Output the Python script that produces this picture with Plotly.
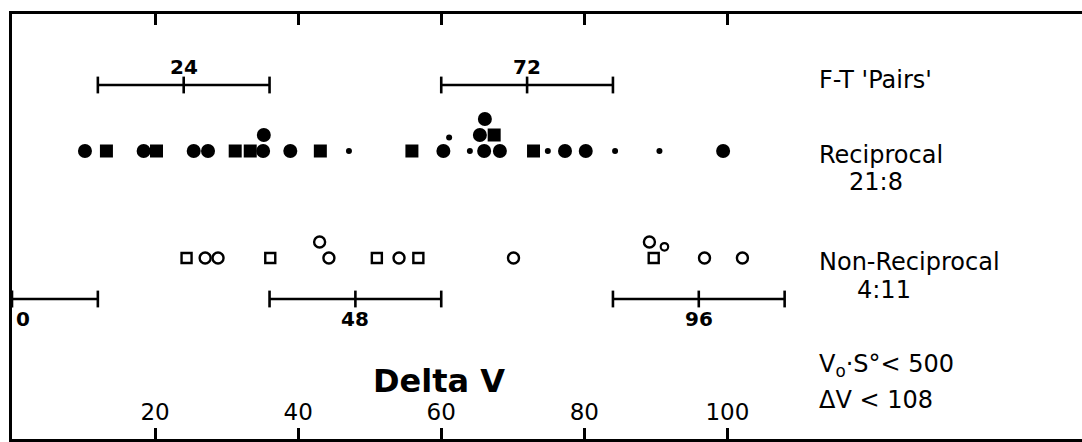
import plotly.graph_objects as go

# ---------------- data (Delta V values) ----------------
# Reciprocal (filled symbols); level = stacking row above the baseline
rec_circle_dv = [10.2, 18.4, 25.4, 27.4, 35.1, 38.9, 60.3, 66.0, 68.2, 77.3, 80.2, 99.4, 35.2, 65.4, 66.1]
rec_circle_lvl = [0, 0, 0, 0, 0, 0, 0, 0, 0, 0, 0, 0, 1, 1, 2]
rec_square_dv = [13.2, 20.2, 31.2, 33.3, 43.1, 55.9, 72.9, 67.4]
rec_square_lvl = [0, 0, 0, 0, 0, 0, 0, 1]
rec_dot_dv = [47.1, 64.0, 74.9, 84.3, 90.5, 61.1]
rec_dot_lvl = [0, 0, 0, 0, 0, 0.85]

# Non-reciprocal (open symbols)
non_circle_dv = [27.0, 28.8, 44.3, 54.1, 70.1, 96.8, 102.1, 43.0, 89.1]
non_circle_lvl = [0, 0, 0, 0, 0, 0, 0, 1, 1]
non_small_circle_dv = [91.2]
non_small_circle_lvl = [0.7]
non_square_dv = [24.4, 36.1, 51.0, 56.8, 89.7]
non_square_lvl = [0, 0, 0, 0, 0]

# F-T 'Pairs' intervals (centre +/- half width)
pair_top_centres = [24, 72]
pair_bottom_centres = [0, 48, 96]
pair_half_width = 12

x_tick_vals = [20, 40, 60, 80, 100]

# ---------------- layout constants ----------------
FONT = "DejaVu Sans"
W, H = 1082, 442
PX_PER_UNIT = 7.154
LEFT_PX = 12
TOP_PX, BOT_PX = 14, 439
Y_MAX = BOT_PX - TOP_PX            # y axis in "pixel-like" units, 0 at bottom frame
X_MAX = (W - LEFT_PX) / PX_PER_UNIT

ROW_REC = 288
ROW_NON = 181
ROW_PAIR_TOP = 354
ROW_PAIR_BOT = 140
LEVEL_STEP = 16
LW = 2.6

def ys(base, levels):
    return [base + l * LEVEL_STEP for l in levels]

fig = go.Figure()

# reciprocal filled markers
fig.add_trace(go.Scatter(x=rec_circle_dv, y=ys(ROW_REC, rec_circle_lvl), mode="markers",
                         marker=dict(symbol="circle", size=14, color="black", line=dict(width=0))))
fig.add_trace(go.Scatter(x=rec_square_dv, y=ys(ROW_REC, rec_square_lvl), mode="markers",
                         marker=dict(symbol="square", size=13, color="black", line=dict(width=0))))
fig.add_trace(go.Scatter(x=rec_dot_dv, y=ys(ROW_REC, rec_dot_lvl), mode="markers",
                         marker=dict(symbol="circle", size=6, color="black", line=dict(width=0))))

# non-reciprocal open markers
fig.add_trace(go.Scatter(x=non_circle_dv, y=ys(ROW_NON, non_circle_lvl), mode="markers",
                         marker=dict(symbol="circle-open", size=11, color="black", line=dict(width=2.4, color="black"))))
fig.add_trace(go.Scatter(x=non_small_circle_dv, y=ys(ROW_NON, non_small_circle_lvl), mode="markers",
                         marker=dict(symbol="circle-open", size=7.5, color="black", line=dict(width=2.2, color="black"))))
fig.add_trace(go.Scatter(x=non_square_dv, y=ys(ROW_NON, non_square_lvl), mode="markers",
                         marker=dict(symbol="square-open", size=10, color="black", line=dict(width=2.4, color="black"))))

# interval bars
def add_bar(c, row):
    xs = [c - pair_half_width, c, c + pair_half_width]
    fig.add_trace(go.Scatter(x=xs, y=[row] * 3, mode="lines+markers",
                             line=dict(color="black", width=LW),
                             marker=dict(symbol="line-ns", size=12, color="black",
                                         line=dict(width=LW, color="black"))))

for c in pair_top_centres:
    add_bar(c, ROW_PAIR_TOP)
for c in pair_bottom_centres:
    add_bar(c, ROW_PAIR_BOT)

annotations = []
for c in pair_top_centres:
    annotations.append(dict(x=c, y=ROW_PAIR_TOP + 18, text=f"<b>{c}</b>", showarrow=False,
                            font=dict(family=FONT, size=20, color="black"), xanchor="center", yanchor="middle"))
for c in pair_bottom_centres:
    lx = c if c > 0 else c + 1.6
    annotations.append(dict(x=lx, y=ROW_PAIR_BOT - 20, text=f"<b>{c}</b>", showarrow=False,
                            font=dict(family=FONT, size=20, color="black"), xanchor="center", yanchor="middle"))

# right-hand labels
TX = 112.5
def lab(x, y, t, size=24):
    annotations.append(dict(x=x, y=y, text=t, showarrow=False, xanchor="left", yanchor="middle",
                            font=dict(family=FONT, size=size, color="black")))

lab(TX, 359, "F-T 'Pairs'")
lab(TX, 284, "Reciprocal")
lab(TX + 4.2, 257, "21:8")
lab(TX, 177, "Non-Reciprocal")
lab(TX + 5.3, 149, "4:11")
lab(TX, 74, "V<sub>o</sub>·S°&lt; 500")
lab(TX, 39, "ΔV &lt; 108")

# axis title drawn inside the frame
annotations.append(dict(x=59.7, y=58, text="<b>Delta V</b>", showarrow=False, xanchor="center", yanchor="middle",
                        font=dict(family=FONT, size=32, color="black")))

fig.update_layout(
    width=W, height=H,
    margin=dict(l=0, r=0, t=0, b=0),
    paper_bgcolor="white", plot_bgcolor="white",
    showlegend=False,
    annotations=annotations,
    xaxis=dict(domain=[LEFT_PX / W, 1], range=[0, X_MAX], showgrid=False, zeroline=False,
               showline=True, linecolor="black", linewidth=LW, mirror="ticks",
               ticks="inside", ticklen=11, tickwidth=LW, tickcolor="black",
               tickvals=x_tick_vals, ticktext=[str(v) for v in x_tick_vals],
               ticklabelposition="inside", ticklabelstandoff=5,
               tickfont=dict(family=FONT, size=23, color="black")),
    yaxis=dict(domain=[(H - BOT_PX) / H, (H - TOP_PX) / H], range=[0, Y_MAX], showgrid=False, zeroline=False,
               showline=True, linecolor="black", linewidth=LW, mirror=False,
               showticklabels=False, ticks=""),
)

fig.write_html("out.html")
